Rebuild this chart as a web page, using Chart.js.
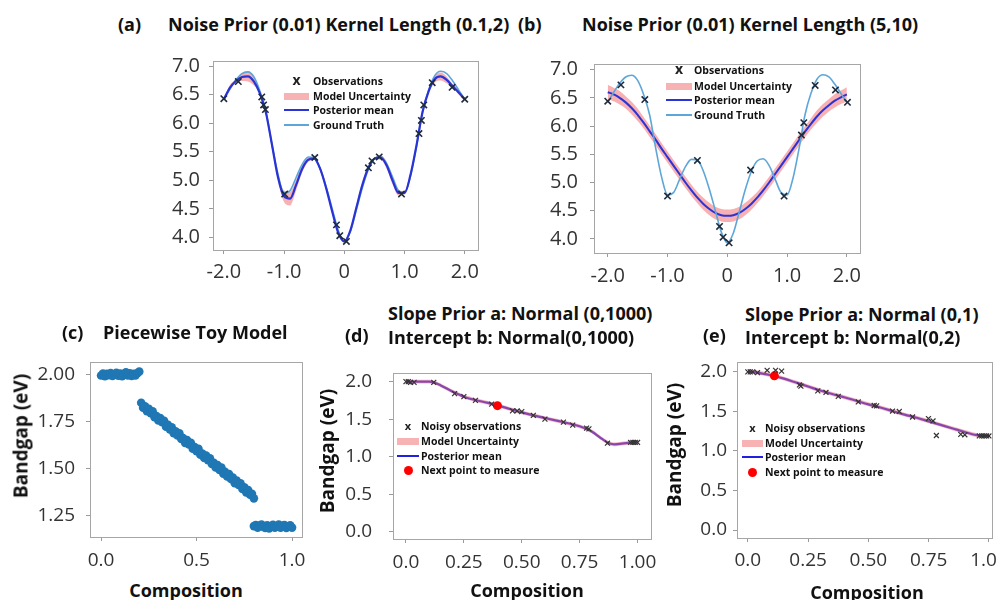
<!DOCTYPE html>
<html>
<head>
<meta charset="utf-8">
<script src="https://cdn.jsdelivr.net/npm/chart.js@4.4.0/dist/chart.umd.min.js"></script>
<style>
  html, body { margin: 0; padding: 0; background: #fff; overflow: hidden; }
  body { width: 998px; height: 600px; position: relative; font-family: 'Open Sans', sans-serif; }
</style>
</head>
<body>
<script>
// ---- (a) / (b): GP fits on the 1D test function ----
const gpX = [-2.0,-1.9,-1.8,-1.7,-1.6,-1.5,-1.4,-1.3,-1.2,-1.1,-1.0,-0.9,-0.8,-0.7,-0.6,-0.5,-0.4,-0.3,-0.2,-0.1,
  0.0,0.1,0.2,0.3,0.4,0.5,0.6,0.7,0.8,0.9,1.0,1.1,1.2,1.3,1.4,1.5,1.6,1.7,1.8,1.9,2.0];
const truthY = [6.42,6.60,6.76,6.87,6.90,6.81,6.56,6.20,5.62,5.10,4.78,4.82,5.05,5.28,5.41,5.40,5.20,4.88,4.50,4.12,
  3.93,4.10,4.48,4.87,5.19,5.38,5.42,5.30,5.06,4.82,4.78,5.08,5.60,6.20,6.58,6.83,6.91,6.87,6.74,6.58,6.42];
const meanA = [6.42,6.62,6.74,6.81,6.82,6.73,6.52,6.18,5.62,5.05,4.72,4.68,4.92,5.20,5.36,5.38,5.20,4.86,4.45,4.08,
  3.93,4.12,4.52,4.92,5.22,5.38,5.40,5.27,5.00,4.78,4.78,5.10,5.62,6.20,6.56,6.77,6.82,6.76,6.65,6.54,6.42];
const bandA = [0.02,0.05,0.03,0.07,0.09,0.07,0.02,0.03,0.04,0.06,0.10,0.12,0.10,0.06,0.04,0.02,0.03,0.04,0.04,0.02,
  0.02,0.03,0.05,0.05,0.03,0.02,0.04,0.06,0.07,0.05,0.03,0.04,0.04,0.02,0.03,0.06,0.07,0.06,0.03,0.04,0.02];
const obsAX = [-2.0,-1.76,-1.37,-1.34,-1.31,-0.99,-0.49,-0.13,-0.075,0.035,0.40,0.46,0.58,0.95,1.24,1.28,1.32,1.46,1.79,2.0];
const obsAY = [6.43,6.73,6.46,6.32,6.24,4.76,5.40,4.22,4.03,3.93,5.22,5.34,5.41,4.76,5.82,6.05,6.32,6.71,6.63,6.42];

const meanB = [6.60,6.56,6.50,6.42,6.32,6.20,6.06,5.91,5.76,5.60,5.45,5.30,5.15,5.00,4.86,4.73,4.62,4.53,4.46,4.42,
  4.41,4.42,4.46,4.53,4.62,4.73,4.86,5.00,5.15,5.30,5.45,5.60,5.75,5.90,6.04,6.17,6.28,6.37,6.45,6.51,6.56];
const bandB = [0.13,0.12,0.12,0.11,0.11,0.11,0.10,0.10,0.10,0.10,0.10,0.10,0.10,0.10,0.10,0.10,0.11,0.11,0.11,0.11,
  0.11,0.11,0.11,0.11,0.11,0.10,0.10,0.10,0.10,0.10,0.10,0.10,0.10,0.10,0.10,0.11,0.11,0.11,0.12,0.12,0.13];
const obsBX = [-2.0,-1.78,-1.38,-1.0,-0.5,-0.13,-0.07,0.03,0.39,0.95,1.24,1.28,1.47,1.81,2.01];
const obsBY = [6.44,6.73,6.47,4.76,5.39,4.22,4.03,3.93,5.22,4.76,5.84,6.06,6.72,6.64,6.42];

const topXTicks = [-2, -1, 0, 1, 2];
const topXLabels = ['-2.0', '-1.0', '0', '1.0', '2.0'];
const topYTicks = [4.0, 4.5, 5.0, 5.5, 6.0, 6.5, 7.0];
const topYLabels = ['4.0', '4.5', '5.0', '5.5', '6.0', '6.5', '7.0'];

// ---- (c): piecewise toy model ----
const toyX = [0.00,0.01,0.02,0.03,0.04,0.05,0.06,0.07,0.08,0.09,0.10,0.11,0.12,0.13,0.14,0.15,0.16,0.17,0.18,0.19,0.20,
  0.21,0.22,0.23,0.24,0.25,0.26,0.27,0.28,0.29,0.30,0.31,0.32,0.33,0.34,0.35,0.36,0.37,0.38,0.39,0.40,
  0.41,0.42,0.43,0.44,0.45,0.46,0.47,0.48,0.49,0.50,0.51,0.52,0.53,0.54,0.55,0.56,0.57,0.58,0.59,0.60,
  0.61,0.62,0.63,0.64,0.65,0.66,0.67,0.68,0.69,0.70,0.71,0.72,0.73,0.74,0.75,0.76,0.77,0.78,0.79,0.80,
  0.80,0.81,0.82,0.83,0.84,0.85,0.86,0.87,0.88,0.89,0.90,0.91,0.92,0.93,0.94,0.95,0.96,0.97,0.98,0.99,1.00];
const toyY = [1.995,2.006,1.992,2.004,1.997,2.008,1.993,2.002,2.010,1.994,2.006,1.991,2.003,2.012,1.995,2.007,1.993,2.004,1.996,2.008,2.016,
  1.850,1.823,1.831,1.805,1.818,1.794,1.804,1.773,1.779,1.755,1.768,1.746,1.754,1.722,1.732,1.708,1.719,1.688,1.697,1.675,
  1.687,1.657,1.661,1.636,1.651,1.627,1.636,1.605,1.614,1.591,1.604,1.573,1.579,1.555,1.568,1.544,1.554,1.523,1.530,1.505,
  1.517,1.492,1.504,1.472,1.481,1.457,1.470,1.443,1.451,1.421,1.435,1.412,1.420,1.390,1.399,1.372,1.385,1.359,1.364,1.340,
  1.192,1.198,1.183,1.195,1.201,1.187,1.182,1.196,1.180,1.193,1.199,1.184,1.191,1.200,1.183,1.194,1.198,1.182,1.190,1.196,1.184];
const toyXTicks = [0, 0.5, 1];
const toyXLabels = ['0.0', '0.5', '1.0'];
const toyYTicks = [1.25, 1.5, 1.75, 2.0];
const toyYLabels = ['1.25', '1.50', '1.75', '2.00'];

// ---- (d) / (e): Bayesian linear-piecewise fits ----
const meanDX = [0,0.05,0.1,0.12,0.15,0.2,0.25,0.3,0.35,0.4,0.45,0.5,0.55,0.6,0.65,0.7,0.75,0.8,0.85,0.88,0.9,0.95,1.0];
const meanDY = [2.0,2.0,2.0,1.99,1.95,1.87,1.80,1.755,1.72,1.68,1.635,1.59,1.55,1.515,1.48,1.445,1.405,1.34,1.23,1.175,1.165,1.18,1.19];
const bandD = [0.025,0.025,0.025,0.025,0.025,0.025,0.025,0.025,0.025,0.025,0.025,0.025,0.025,0.025,0.025,0.025,0.025,0.025,0.025,0.025,0.025,0.025,0.025];
const obsDX = [0.0,0.01,0.02,0.035,0.12,0.21,0.25,0.30,0.37,0.46,0.48,0.50,0.55,0.60,0.68,0.72,0.78,0.79,0.87,0.97,0.98,0.99,1.0];
const obsDY = [2.0,2.0,1.99,1.99,1.99,1.84,1.80,1.75,1.70,1.61,1.61,1.60,1.55,1.50,1.46,1.42,1.38,1.37,1.18,1.19,1.19,1.19,1.19];
const nextDX = [0.395];
const nextDY = [1.68];

const meanEX = [0,0.05,0.1,0.15,0.2,0.25,0.3,0.35,0.4,0.45,0.5,0.55,0.6,0.65,0.7,0.75,0.8,0.85,0.9,0.95,1.0];
const meanEY = [2.01,1.985,1.955,1.915,1.865,1.815,1.765,1.72,1.68,1.635,1.59,1.55,1.505,1.46,1.42,1.375,1.33,1.285,1.24,1.20,1.19];
const bandE = [0.025,0.025,0.025,0.025,0.025,0.025,0.025,0.025,0.025,0.025,0.025,0.025,0.025,0.025,0.025,0.025,0.025,0.025,0.025,0.025,0.025];
const obsEX = [0.0,0.01,0.02,0.04,0.08,0.115,0.14,0.214,0.22,0.29,0.324,0.375,0.458,0.524,0.534,0.60,0.628,0.683,0.749,0.768,0.782,0.883,0.90,0.96,0.97,0.98,0.99,1.0];
const obsEY = [2.0,2.0,2.0,1.99,2.02,2.02,2.01,1.835,1.82,1.76,1.74,1.69,1.62,1.575,1.57,1.505,1.50,1.43,1.41,1.38,1.196,1.21,1.205,1.19,1.19,1.19,1.19,1.19];
const nextEX = [0.11];
const nextEY = [1.95];

const compTicks = [0, 0.25, 0.5, 0.75, 1];
const compLabels = ['0.0', '0.25', '0.50', '0.75', '1.00'];
const gapTicks = [0, 0.5, 1, 1.5, 2];
const gapLabels = ['0.0', '0.5', '1.0', '1.5', '2.0'];

// colours
const PINK = 'rgba(246,150,152,0.75)';
const PINK_TOP = 'rgba(240,110,130,0.5)';
const TRUTH = '#5ea6d8';
const MEAN = '#2a34d6';
const XMARK = '#1e2b3c';

Chart.defaults.font.family = "'Open Sans', sans-serif";
Chart.defaults.color = '#333';

const pts = (xs, ys) => xs.map((x, i) => ({ x, y: ys[i] }));
const offs = (xs, ys, w, s) => xs.map((x, i) => ({ x, y: ys[i] + s * w[i] }));

const line = (data, color, width) => ({
  data, borderColor: color, borderWidth: width, pointRadius: 0, fill: false, cubicInterpolationMode: 'monotone'
});
const band = (xs, ys, w, color) => [
  { data: offs(xs, ys, w, 1), borderWidth: 0, pointRadius: 0, backgroundColor: color, fill: '+1', cubicInterpolationMode: 'monotone' },
  { data: offs(xs, ys, w, -1), borderWidth: 0, pointRadius: 0, fill: false, cubicInterpolationMode: 'monotone' }
];
const marks = (data, r, color, lw) => ({
  data, showLine: false, pointStyle: 'crossRot', pointRadius: r, pointBorderColor: color, pointBorderWidth: lw
});
const dots = (data, r, color) => ({
  data, showLine: false, pointStyle: 'circle', pointRadius: r, pointBackgroundColor: color, pointBorderColor: color, pointBorderWidth: 0
});

// grey box round the plot area
const frame = {
  id: 'frame',
  afterDraw(c) {
    const a = c.chartArea, ctx = c.ctx;
    ctx.save();
    ctx.strokeStyle = '#a6a6a6';
    ctx.lineWidth = 1;
    ctx.strokeRect(Math.round(a.left) + 0.5, Math.round(a.top) + 0.5, Math.round(a.right - a.left), Math.round(a.bottom - a.top));
    ctx.restore();
  }
};

function panel(p) {
  const cv = document.createElement('canvas');
  cv.width = p.w; cv.height = p.h;
  cv.style.cssText = `position:absolute;left:${p.left}px;top:${p.top}px;width:${p.w}px;height:${p.h}px`;
  document.body.appendChild(cv);
  const axis = (o, size) => ({
    type: 'linear', min: o.min, max: o.max,
    afterBuildTicks: s => { s.ticks = o.ticks.map(v => ({ value: v })); },
    afterFit: s => { if (s.isHorizontal()) s.height = size; else s.width = size; },
    grid: { display: true, drawOnChartArea: false, drawTicks: true, tickLength: 4, color: '#9a9a9a' },
    border: { display: false },
    ticks: { padding: o.pad, font: { size: p.fs }, color: '#333', maxRotation: 0, autoSkip: false, callback: (v, i) => o.labels[i] }
  });
  return new Chart(cv, {
    type: 'line',
    data: { datasets: p.datasets },
    options: {
      responsive: false, animation: false, events: [],
      layout: { padding: { left: 0, top: p.area[1], right: p.w - p.area[2], bottom: 0 } },
      plugins: { legend: { display: false }, tooltip: { enabled: false } },
      scales: { x: axis(p.x, p.h - p.area[3]), y: axis(p.y, p.area[0]) }
    },
    plugins: [frame]
  });
}

function put(str, x, y, size, o = {}) {
  const d = document.createElement('div');
  d.textContent = str;
  const tx = o.center ? '-50%' : '0';
  d.style.cssText = `position:absolute;left:${x}px;top:${y}px;font-size:${size}px;font-weight:${o.weight || 700};` +
    `white-space:nowrap;line-height:1;color:#111;transform:translate(${tx},-50%)${o.rot ? ' rotate(-90deg)' : ''}`;
  document.body.appendChild(d);
}

function legend(items, symL, symW, txtL, rows, xSize) {
  items.forEach((it, i) => {
    const y = rows[i];
    const s = document.createElement('div');
    let css = 'position:absolute;';
    if (it.kind === 'x') {
      s.textContent = 'x';
      css += `left:${symL + symW / 2}px;top:${y}px;transform:translate(-50%,-55%);font-size:${xSize}px;font-weight:700;line-height:1;color:#222`;
    } else if (it.kind === 'patch') {
      css += `left:${symL}px;top:${y - 3}px;width:${symW}px;height:7px;background:#f7b3b3`;
    } else if (it.kind === 'line') {
      css += `left:${symL}px;top:${y - 1}px;width:${symW}px;height:${it.lw}px;background:${it.c}`;
    } else {
      css += `left:${symL + symW / 2 - 4.5}px;top:${y - 4.5}px;width:9px;height:9px;border-radius:50%;background:#f00`;
    }
    s.style.cssText = css;
    document.body.appendChild(s);
    put(it.label, txtL, y, 10.5);
  });
}

// (a)
panel({
  left: 150, top: 40, w: 340, h: 260, area: [63, 17, 328, 210], fs: 20,
  x: { min: -2.18, max: 2.22, ticks: topXTicks, labels: topXLabels, pad: 6 },
  y: { min: 3.78, max: 7.09, ticks: topYTicks, labels: topYLabels, pad: 9 },
  datasets: [
    marks(pts(obsAX, obsAY), 4.5, XMARK, 1.6),
    line(pts(gpX, meanA), MEAN, 2.2),
    line(pts(gpX, truthY), TRUTH, 1.6),
    ...band(gpX, meanA, bandA, PINK)
  ]
});

// (b)
panel({
  left: 530, top: 40, w: 345, h: 260, area: [64, 13, 330, 213], fs: 20,
  x: { min: -2.23, max: 2.22, ticks: topXTicks, labels: topXLabels, pad: 7 },
  y: { min: 3.75, max: 7.10, ticks: topYTicks, labels: topYLabels, pad: 12 },
  datasets: [
    marks(pts(obsBX, obsBY), 4.5, XMARK, 1.6),
    line(pts(gpX, truthY), TRUTH, 1.6),
    line(pts(gpX, meanB), MEAN, 2),
    ...band(gpX, meanB, bandB, PINK)
  ]
});

// (c)
panel({
  left: 30, top: 340, w: 285, h: 235, area: [60, 12, 272, 197], fs: 19,
  x: { min: -0.058, max: 1.052, ticks: toyXTicks, labels: toyXLabels, pad: 8 },
  y: { min: 1.134, max: 2.065, ticks: toyYTicks, labels: toyYLabels, pad: 11 },
  datasets: [dots(pts(toyX, toyY), 4.3, '#1f77b4')]
});

// (d)
panel({
  left: 340, top: 345, w: 325, h: 235, area: [53, 12, 312, 194], fs: 19,
  x: { min: -0.056, max: 1.056, ticks: compTicks, labels: compLabels, pad: 8 },
  y: { min: -0.097, max: 2.11, ticks: gapTicks, labels: gapLabels, pad: 17 },
  datasets: [
    marks(pts(obsDX, obsDY), 3.5, '#333', 1.2),
    dots(pts(nextDX, nextDY), 4.5, '#ff0000'),
    ...band(meanDX, meanDY, bandD, PINK_TOP),
    line(pts(meanDX, meanDY), '#2020d8', 2.2)
  ]
});

// (e)
panel({
  left: 685, top: 345, w: 330, h: 235, area: [52, 13, 308, 193], fs: 19,
  x: { min: -0.045, max: 1.012, ticks: compTicks, labels: compLabels, pad: 7 },
  y: { min: -0.1, max: 2.12, ticks: gapTicks, labels: gapLabels, pad: 6 },
  datasets: [
    marks(pts(obsEX, obsEY), 3.5, '#333', 1.2),
    dots(pts(nextEX, nextEY), 4.5, '#ff0000'),
    ...band(meanEX, meanEY, bandE, PINK_TOP),
    line(pts(meanEX, meanEY), '#2020d8', 2.2)
  ]
});

// titles and axis names
put('(a)', 118, 24, 18);
put('Noise Prior (0.01) Kernel Length (0.1,2)', 168, 24, 18);
put('(b)', 518, 24, 18);
put('Noise Prior (0.01) Kernel Length (5,10)', 582, 24, 18);
put('(c)', 62, 332, 18);
put('Piecewise Toy Model', 103, 332, 18);
put('(d)', 345, 335, 18);
put('Slope Prior a: Normal (0,1000)', 388, 313, 18);
put('Intercept b: Normal(0,1000)', 388, 337, 18);
put('(e)', 703, 335, 18);
put('Slope Prior a: Normal (0,1)', 745, 314, 18);
put('Intercept b: Normal(0,2)', 745, 337, 18);

put('Composition', 186, 590, 18, { center: true });
put('Composition', 527, 590, 18, { center: true });
put('Composition', 867, 592, 18, { center: true });
put('Bandgap (eV)', 21, 436, 19, { center: true, rot: true });
put('Bandgap (eV)', 327, 451, 19, { center: true, rot: true });
put('Bandgap (eV)', 674, 445, 19, { center: true, rot: true });

// legends
const gpLegend = [
  { kind: 'x', label: 'Observations' },
  { kind: 'patch', label: 'Model Uncertainty' },
  { kind: 'line', c: MEAN, lw: 2, label: 'Posterior mean' },
  { kind: 'line', c: TRUTH, lw: 2, label: 'Ground Truth' }
];
const bayesLegend = [
  { kind: 'x', label: 'Noisy observations' },
  { kind: 'patch', label: 'Model Uncertainty' },
  { kind: 'line', c: '#2020e0', lw: 1.5, label: 'Posterior mean' },
  { kind: 'dot', label: 'Next point to measure' }
];
legend(gpLegend, 284, 25, 313, [81, 96, 110, 125], 14);
legend(gpLegend, 666, 26, 694, [70, 86, 100, 115], 14);
legend(bayesLegend, 397, 22, 421, [426, 441, 456, 470], 11);
legend(bayesLegend, 742, 21, 765, [428, 443, 457, 472], 11);
</script>
</body>
</html>
